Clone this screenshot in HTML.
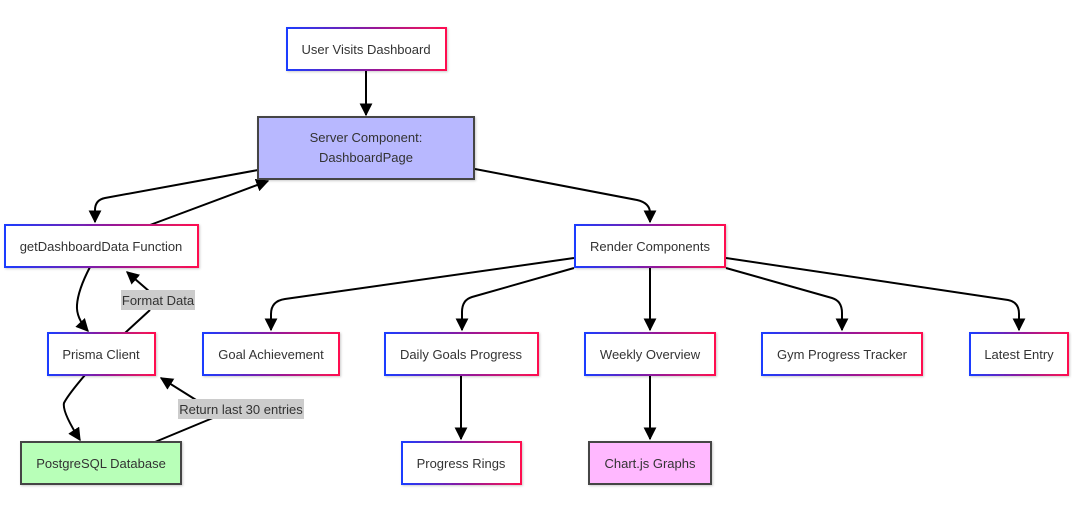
<!DOCTYPE html>
<html><head><meta charset="utf-8"><style>
html,body{margin:0;padding:0;background:#fff;width:1072px;height:521px;overflow:hidden}
svg text{font-family:"Liberation Sans",Arial,sans-serif;font-size:13px;fill:#333;}
</style></head><body>
<svg width="1072" height="521" viewBox="0 0 1072 521" xmlns="http://www.w3.org/2000/svg">
<defs>
<linearGradient id="g" x1="0" y1="0" x2="1" y2="0">
<stop offset="0" stop-color="#1a3cff"/><stop offset="0.5" stop-color="#8a1aa0"/><stop offset="1" stop-color="#ff1050"/>
</linearGradient>
<marker id="a" viewBox="0 0 10 10" refX="9" refY="5" markerWidth="13" markerHeight="13" markerUnits="userSpaceOnUse" orient="auto">
<path d="M0,0 L10,5 L0,10 z" fill="#000"/></marker>
<filter id="sh" x="-5%" y="-5%" width="110%" height="120%"><feDropShadow dx="1" dy="1" stdDeviation="1" flood-opacity="0.2"/></filter>
</defs>
<g fill="none" stroke="#000" stroke-width="2">
<path d="M366,70 L366,115" marker-end="url(#a)"/>
<path d="M258,170 L105,198 Q95,200 95,210 L95,222" marker-end="url(#a)"/>
<path d="M150,225 L268,181" marker-end="url(#a)"/>
<path d="M475,169 L637,200 Q650,203 650,213 L650,222" marker-end="url(#a)"/>
<path d="M90,267 Q78,290 77,305 Q76,318 88,331" marker-end="url(#a)"/>
<path d="M125,333 L150,310"/>
<path d="M150,292 L127,272" marker-end="url(#a)"/>
<path d="M85,375 Q68,395 64,403 Q62,412 80,440" marker-end="url(#a)"/>
<path d="M574,258 L285,299 Q271,301 271,314 L271,330" marker-end="url(#a)"/>
<path d="M574,268 L472,297 Q462,300 462,312 L462,330" marker-end="url(#a)"/>
<path d="M650,267 L650,330" marker-end="url(#a)"/>
<path d="M726,268 L832,298 Q842,301 842,313 L842,330" marker-end="url(#a)"/>
<path d="M726,258 L1008,300 Q1019,302 1019,314 L1019,330" marker-end="url(#a)"/>
<path d="M461,375 L461,439" marker-end="url(#a)"/>
<path d="M650,375 L650,439" marker-end="url(#a)"/>
<path d="M155,442 L220,415 L161,378" marker-end="url(#a)"/>
</g>
<rect x="121" y="290" width="74" height="20" fill="#ccc"/>
<text x="158" y="305" text-anchor="middle">Format Data</text>
<rect x="178" y="399" width="126" height="20" fill="#ccc"/>
<text x="241" y="414" text-anchor="middle">Return last 30 entries</text>

<g filter="url(#sh)">
<rect x="287" y="28" width="159" height="42" fill="#fff" stroke="url(#g)" stroke-width="2"/>
<rect x="258" y="117" width="216" height="62" fill="#b8b8ff" stroke="#444" stroke-width="2"/>
<rect x="5" y="225" width="193" height="42" fill="#fff" stroke="url(#g)" stroke-width="2"/>
<rect x="575" y="225" width="150" height="42" fill="#fff" stroke="url(#g)" stroke-width="2"/>
<rect x="48" y="333" width="107" height="42" fill="#fff" stroke="url(#g)" stroke-width="2"/>
<rect x="203" y="333" width="136" height="42" fill="#fff" stroke="url(#g)" stroke-width="2"/>
<rect x="385" y="333" width="153" height="42" fill="#fff" stroke="url(#g)" stroke-width="2"/>
<rect x="585" y="333" width="130" height="42" fill="#fff" stroke="url(#g)" stroke-width="2"/>
<rect x="762" y="333" width="160" height="42" fill="#fff" stroke="url(#g)" stroke-width="2"/>
<rect x="970" y="333" width="98" height="42" fill="#fff" stroke="url(#g)" stroke-width="2"/>
<rect x="21" y="442" width="160" height="42" fill="#b8ffb8" stroke="#444" stroke-width="2"/>
<rect x="402" y="442" width="119" height="42" fill="#fff" stroke="url(#g)" stroke-width="2"/>
<rect x="589" y="442" width="122" height="42" fill="#ffb8ff" stroke="#444" stroke-width="2"/>
</g>
<g text-anchor="middle">
<text x="366" y="54">User Visits Dashboard</text>
<text x="366" y="142">Server Component:</text>
<text x="366" y="162">DashboardPage</text>
<text x="101" y="251">getDashboardData Function</text>
<text x="650" y="251">Render Components</text>
<text x="101" y="359">Prisma Client</text>
<text x="271" y="359">Goal Achievement</text>
<text x="461" y="359">Daily Goals Progress</text>
<text x="650" y="359">Weekly Overview</text>
<text x="842" y="359">Gym Progress Tracker</text>
<text x="1019" y="359">Latest Entry</text>
<text x="101" y="468">PostgreSQL Database</text>
<text x="461" y="468">Progress Rings</text>
<text x="650" y="468">Chart.js Graphs</text>
</g>
</svg>
</body></html>
